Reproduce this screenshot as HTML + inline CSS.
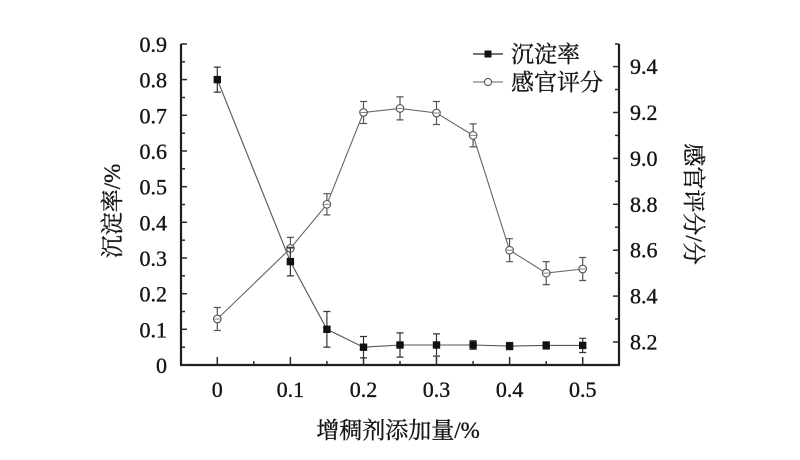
<!DOCTYPE html>
<html><head><meta charset="utf-8"><style>
html,body{margin:0;padding:0;background:#fff;}
svg{display:block;}
text{font-family:"Liberation Serif","Noto Serif CJK SC",serif;fill:#151515;stroke:#151515;stroke-width:0.35;}
.cjk{font-family:"Liberation Serif","Noto Serif CJK SC",serif;}
</style></head><body>
<svg width="800" height="460" viewBox="0 0 800 460" xmlns="http://www.w3.org/2000/svg">
<rect width="800" height="460" fill="#fff"/>
<!-- axes -->
<g stroke="#1e1e1e" stroke-width="2.2" fill="none">
<line x1="181" y1="44" x2="181" y2="366"/>
<line x1="180" y1="365" x2="620" y2="365"/>
<line x1="619" y1="44" x2="619" y2="366"/>
</g>
<!-- left ticks -->
<g stroke="#2a2a2a" stroke-width="1.5">
<line x1="181" y1="365" x2="187" y2="365"/>
<line x1="181" y1="347.2" x2="185" y2="347.2"/>
<line x1="181" y1="329.3" x2="187" y2="329.3"/>
<line x1="181" y1="311.5" x2="185" y2="311.5"/>
<line x1="181" y1="293.7" x2="187" y2="293.7"/>
<line x1="181" y1="275.8" x2="185" y2="275.8"/>
<line x1="181" y1="258" x2="187" y2="258"/>
<line x1="181" y1="240.2" x2="185" y2="240.2"/>
<line x1="181" y1="222.3" x2="187" y2="222.3"/>
<line x1="181" y1="204.5" x2="185" y2="204.5"/>
<line x1="181" y1="186.7" x2="187" y2="186.7"/>
<line x1="181" y1="168.8" x2="185" y2="168.8"/>
<line x1="181" y1="151" x2="187" y2="151"/>
<line x1="181" y1="133.2" x2="185" y2="133.2"/>
<line x1="181" y1="115.3" x2="187" y2="115.3"/>
<line x1="181" y1="97.5" x2="185" y2="97.5"/>
<line x1="181" y1="79.6" x2="187" y2="79.6"/>
<line x1="181" y1="61.8" x2="185" y2="61.8"/>
<line x1="181" y1="44" x2="187" y2="44"/>
</g>
<!-- bottom ticks -->
<g stroke="#2a2a2a" stroke-width="1.5">
<line x1="217.3" y1="365" x2="217.3" y2="357"/>
<line x1="253.8" y1="365" x2="253.8" y2="361"/>
<line x1="290.4" y1="365" x2="290.4" y2="357"/>
<line x1="326.9" y1="365" x2="326.9" y2="361"/>
<line x1="363.5" y1="365" x2="363.5" y2="357"/>
<line x1="400" y1="365" x2="400" y2="361"/>
<line x1="436.5" y1="365" x2="436.5" y2="357"/>
<line x1="473.1" y1="365" x2="473.1" y2="361"/>
<line x1="509.6" y1="365" x2="509.6" y2="357"/>
<line x1="546.2" y1="365" x2="546.2" y2="361"/>
<line x1="582.7" y1="365" x2="582.7" y2="357"/>
</g>
<!-- right ticks -->
<g stroke="#2a2a2a" stroke-width="1.5">
<line x1="619" y1="365" x2="615" y2="365"/>
<line x1="619" y1="342" x2="613" y2="342"/>
<line x1="619" y1="319" x2="615" y2="319"/>
<line x1="619" y1="296.1" x2="613" y2="296.1"/>
<line x1="619" y1="273.1" x2="615" y2="273.1"/>
<line x1="619" y1="250.2" x2="613" y2="250.2"/>
<line x1="619" y1="227.2" x2="615" y2="227.2"/>
<line x1="619" y1="204.3" x2="613" y2="204.3"/>
<line x1="619" y1="181.3" x2="615" y2="181.3"/>
<line x1="619" y1="158.4" x2="613" y2="158.4"/>
<line x1="619" y1="135.4" x2="615" y2="135.4"/>
<line x1="619" y1="112.5" x2="613" y2="112.5"/>
<line x1="619" y1="89.5" x2="615" y2="89.5"/>
<line x1="619" y1="66.6" x2="613" y2="66.6"/>
<line x1="619" y1="44" x2="615" y2="44"/>
</g>
<!-- left labels -->
<g font-size="22" text-anchor="end">
<text x="167" y="373">0</text>
<text x="167" y="337.3">0.1</text>
<text x="167" y="301.7">0.2</text>
<text x="167" y="266">0.3</text>
<text x="167" y="230.3">0.4</text>
<text x="167" y="194.7">0.5</text>
<text x="167" y="159">0.6</text>
<text x="167" y="123.3">0.7</text>
<text x="167" y="87.6">0.8</text>
<text x="167" y="52">0.9</text>
</g>
<!-- bottom labels -->
<g font-size="22" text-anchor="middle">
<text x="217.3" y="397">0</text>
<text x="290.4" y="397">0.1</text>
<text x="363.5" y="397">0.2</text>
<text x="436.5" y="397">0.3</text>
<text x="509.6" y="397">0.4</text>
<text x="582.7" y="397">0.5</text>
</g>
<!-- right labels -->
<g font-size="22">
<text x="630" y="349.5">8.2</text>
<text x="630" y="303.6">8.4</text>
<text x="630" y="257.7">8.6</text>
<text x="630" y="211.8">8.8</text>
<text x="630" y="165.9">9.0</text>
<text x="630" y="120">9.2</text>
<text x="630" y="74">9.4</text>
</g>
<!-- axis titles -->
<text class="cjk" font-size="23" x="398" y="438" text-anchor="middle">增稠剂添加量/%</text>
<text class="cjk" font-size="23" transform="translate(120,211) rotate(-90)" text-anchor="middle">沉淀率/%</text>
<text class="cjk" font-size="23" transform="translate(686,204) rotate(90)" text-anchor="middle">感官评分/分</text>

<!-- sensory series (circles) -->
<polyline fill="none" stroke="#666" stroke-width="1.1" points="217.3,319 290.4,248.4 326.9,204.3 363.5,112.5 400,108.4 436.5,113 473.1,135.4 509.6,250.2 546.2,273.1 582.7,269"/>
<g stroke="#555" stroke-width="1.2" fill="none">
<path d="M217.3,307.5V330.5M213.8,307.5H220.8M213.8,330.5H220.8"/>
<path d="M290.4,237.4V259.4M286.9,237.4H293.9M286.9,259.4H293.9"/>
<path d="M326.9,193.7V214.9M323.4,193.7H330.4M323.4,214.9H330.4"/>
<path d="M363.5,101.5V123.5M360,101.5H367M360,123.5H367"/>
<path d="M400,96.9V119.9M396.5,96.9H403.5M396.5,119.9H403.5"/>
<path d="M436.5,101.5V124.5M433,101.5H440M433,124.5H440"/>
<path d="M473.1,123.9V146.9M469.6,123.9H476.6M469.6,146.9H476.6"/>
<path d="M509.6,238.7V261.7M506.1,238.7H513.1M506.1,261.7H513.1"/>
<path d="M546.2,261.6V284.6M542.7,261.6H549.7M542.7,284.6H549.7"/>
<path d="M582.7,257.5V280.5M579.2,257.5H586.2M579.2,280.5H586.2"/>
</g>
<g stroke="#555" stroke-width="1.1" fill="#fff">
<circle cx="217.3" cy="319" r="3.8"/>
<circle cx="290.4" cy="248.4" r="3.8"/>
<circle cx="326.9" cy="204.3" r="3.8"/>
<circle cx="363.5" cy="112.5" r="3.8"/>
<circle cx="400" cy="108.4" r="3.8"/>
<circle cx="436.5" cy="113" r="3.8"/>
<circle cx="473.1" cy="135.4" r="3.8"/>
<circle cx="509.6" cy="250.2" r="3.8"/>
<circle cx="546.2" cy="273.1" r="3.8"/>
<circle cx="582.7" cy="269" r="3.8"/>
</g>
<g stroke="#777" stroke-width="0.9">
<line x1="213.5" y1="319" x2="221.1" y2="319"/>
<line x1="286.6" y1="248.4" x2="294.2" y2="248.4"/>
<line x1="323.1" y1="204.3" x2="330.7" y2="204.3"/>
<line x1="359.7" y1="112.5" x2="367.3" y2="112.5"/>
<line x1="396.2" y1="108.4" x2="403.8" y2="108.4"/>
<line x1="432.7" y1="113" x2="440.3" y2="113"/>
<line x1="469.3" y1="135.4" x2="476.9" y2="135.4"/>
<line x1="505.8" y1="250.2" x2="513.4" y2="250.2"/>
<line x1="542.4" y1="273.1" x2="550" y2="273.1"/>
<line x1="578.9" y1="269" x2="586.5" y2="269"/>
</g>

<!-- sedimentation series (squares) -->
<polyline fill="none" stroke="#555" stroke-width="1.1" points="217.3,79.6 290.4,261.6 326.9,329.3 363.5,347.2 400,345 436.5,345 473.1,345 509.6,346.1 546.2,345.4 582.7,345.4"/>
<g stroke="#333" stroke-width="1.2" fill="none">
<path d="M217.3,67.1V92.1M213.8,67.1H220.8M213.8,92.1H220.8"/>
<path d="M290.4,247.3V275.9M286.9,247.3H293.9M286.9,275.9H293.9"/>
<path d="M326.9,311.5V347.1M323.4,311.5H330.4M323.4,347.1H330.4"/>
<path d="M363.5,336.5V357.9M360,336.5H367M360,357.9H367"/>
<path d="M400,332.9V357.1M396.5,332.9H403.5M396.5,357.1H403.5"/>
<path d="M436.5,333.9V356.1M433,333.9H440M433,356.1H440"/>
<path d="M473.1,340.7V349.3M469.6,340.7H476.6M469.6,349.3H476.6"/>
<path d="M509.6,342.5V349.7M506.1,342.5H513.1M506.1,349.7H513.1"/>
<path d="M546.2,341.8V349M542.7,341.8H549.7M542.7,349H549.7"/>
<path d="M582.7,338.3V352.5M579.2,338.3H586.2M579.2,352.5H586.2"/>
</g>
<g fill="#111">
<rect x="213.6" y="75.9" width="7.4" height="7.4"/>
<rect x="286.7" y="257.9" width="7.4" height="7.4"/>
<rect x="323.2" y="325.6" width="7.4" height="7.4"/>
<rect x="359.8" y="343.5" width="7.4" height="7.4"/>
<rect x="396.3" y="341.3" width="7.4" height="7.4"/>
<rect x="432.8" y="341.3" width="7.4" height="7.4"/>
<rect x="469.4" y="341.3" width="7.4" height="7.4"/>
<rect x="505.9" y="342.4" width="7.4" height="7.4"/>
<rect x="542.5" y="341.7" width="7.4" height="7.4"/>
<rect x="579" y="341.7" width="7.4" height="7.4"/>
</g>

<!-- legend -->
<line x1="473" y1="54" x2="503" y2="54" stroke="#222" stroke-width="1.3"/>
<rect x="484.5" y="50.5" width="7" height="7" fill="#111"/>
<text class="cjk" font-size="23" x="511" y="62">沉淀率</text>
<line x1="473" y1="82" x2="503" y2="82" stroke="#666" stroke-width="1.1"/>
<circle cx="488" cy="82" r="3.6" fill="#fff" stroke="#555" stroke-width="1.1"/>
<text class="cjk" font-size="23" x="511" y="90">感官评分</text>
</svg>
</body></html>
